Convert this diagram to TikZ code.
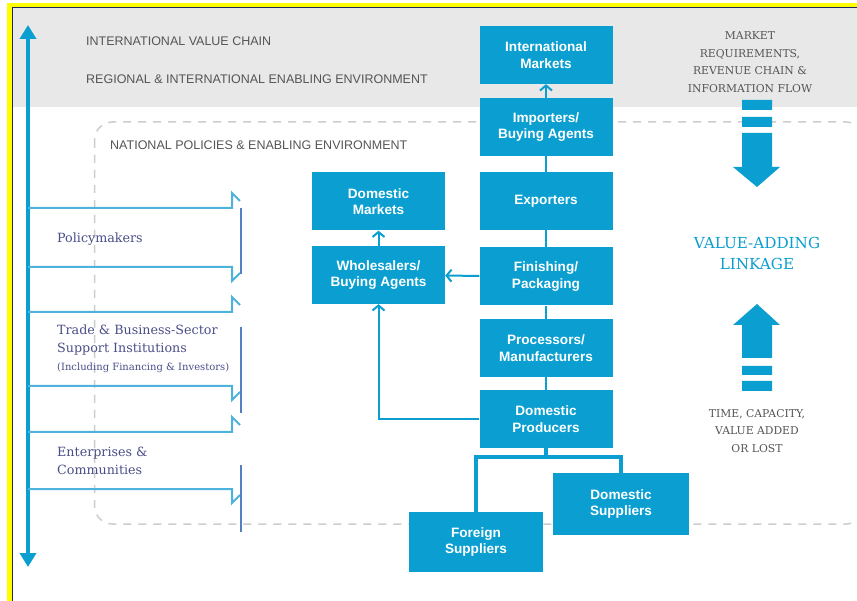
\documentclass[tikz,border=0pt]{standalone}
\usepackage{fontspec}
\setmainfont{Liberation Sans}
\newfontfamily\slabfont{DejaVu Serif}
\usepackage{tikz}
\usetikzlibrary{arrows.meta, calc}
\definecolor{Chain}{HTML}{0A9FD0}
\definecolor{Frame}{HTML}{4DB3DC}
\definecolor{Edge}{HTML}{5580C0}
\definecolor{Band}{HTML}{E8E8E8}
\definecolor{Guide}{HTML}{CDCDCD}
\definecolor{Caption}{HTML}{555555}
\definecolor{Actor}{HTML}{4B4E88}
\definecolor{Marker}{HTML}{FFFF00}
\definecolor{Ink}{HTML}{1D2A5A}
\tikzset{
  stage/.style={fill=Chain, text=white, font=\fontsize{13.6}{16.5}\selectfont\bfseries, align=center, inner sep=0pt, minimum width=133pt, minimum height=58pt},
  link/.style={draw=Chain, line width=2pt},
  flow/.style={link, -{Straight Barb[length=5pt, width=12pt, line width=2pt]}},
  feed/.style={draw=Chain, line width=3.5pt},
  reach/.style={{Triangle[width=16pt, length=14pt]}-{Triangle[width=16pt, length=14pt]}, draw=Chain, line width=3.5pt},
  band/.style={draw=Frame, line width=2pt},
  scopeedge/.style={draw=Edge, line width=1.6pt},
  caption/.style={color=Caption, font=\fontsize{12.5}{15}\selectfont, anchor=west, inner sep=0pt},
  note/.style={color=Caption, font=\slabfont\fontsize{10.8}{17.5}\selectfont, align=center},
  actor/.style={color=Actor, font=\slabfont\fontsize{12.7}{18}\selectfont, anchor=west, align=left, inner sep=0pt},
  bigarrow/.style={fill=Chain},
  dashedguide/.style={draw=Guide, dash pattern=on 8pt off 7pt, line width=1.5pt, rounded corners=18pt},
}

\begin{document}
\begin{tikzpicture}[x=1pt, y=-1pt]
  \useasboundingbox (0,0) rectangle (857,601);
  \clip (0,0) rectangle (857,601);
  \fill[white] (0,0) rectangle (857,601);
  \fill[Band] (12,8) rectangle (857,107);
  \draw[dashedguide] (94.5,122) rectangle (864,524);
  \draw[Marker, line width=4.5pt] (9.5,5.2) rectangle (880,640);
  \draw[Ink, line width=0.7pt] (12.2,640) -- (12.2,7.8) -- (880,7.8);

  \node[caption] (chaintitle) at (86,41) {INTERNATIONAL VALUE CHAIN};
  \node[caption] (regiontitle) at (86,79) {REGIONAL \& INTERNATIONAL ENABLING ENVIRONMENT};
  \node[caption] (nationtitle) at (110,145) {NATIONAL POLICIES \& ENABLING ENVIRONMENT};

  % actors on the left
  \coordinate (reachtop) at (28,25);
  \coordinate (reachbottom) at (28,567);
  \draw[reach] (reachbottom) -- (reachtop);
  \foreach \hi/\lo/\ea/\eb in {208/267/208/274, 312/386/327/413, 432/489/465/532} {
    \draw[band] (28,\hi) -- (232,\hi) -- (232,\hi-15) -- (240,\hi-7);
    \draw[band] (28,\lo) -- (232,\lo) -- (232,\lo+14) -- (240,\lo+6);
    \draw[scopeedge] (241,\ea) -- (241,\eb);
  }
  \node[actor] (policy) at (57,239) {Policymakers};
  \node[actor] (support) at (57,349) {Trade \& Business-Sector\\Support Institutions\\{\fontsize{10}{18}\selectfont(Including Financing \& Investors)}};
  \node[actor] (firms) at (57,461) {Enterprises \&\\Communities};

  % value chain
  \node[stage] (intl) at (546,55) {International\\Markets};
  \node[stage] (imp) at (546,127) {Importers/\\Buying Agents};
  \node[stage] (exp) at (546,201) {Exporters};
  \node[stage] (fin) at (546,276.5) {Finishing/\\Packaging};
  \node[stage] (proc) at (546,348) {Processors/\\Manufacturers};
  \node[stage] (prod) at (546,419) {Domestic\\Producers};
  \node[stage] (dmk) at (378.5,201.5) {Domestic\\Markets};
  \node[stage] (whol) at (378.5,275) {Wholesalers/\\Buying Agents};
  \node[stage, minimum width=134pt, minimum height=60pt] (fsup) at (476,542) {Foreign\\Suppliers};
  \node[stage, minimum width=136pt, minimum height=62pt] (dsup) at (621,504) {Domestic\\Suppliers};

  \draw[flow] (imp) -- (intl);
  \draw[link] (exp) -- (imp);
  \draw[link] (fin) -- (exp);
  \draw[link] (proc) -- (fin);
  \draw[link] (prod) -- (proc);
  \draw[flow] (fin) -- (whol);
  \draw[flow] (whol) -- (dmk);
  \draw[flow] (prod) -| (whol);
  \coordinate (fork) at ($(prod.south)+(0,9)$);
  \draw[feed] (prod) -- (fork);
  \draw[feed] (fsup) |- (fork) -| (dsup);

  % linkage arrows
  \node[note] (demand) at (750,62) {MARKET\\REQUIREMENTS,\\REVENUE CHAIN \&\\INFORMATION FLOW};
  \fill[bigarrow] (742,100) rectangle (772,110) (742,117) rectangle (772,127);
  \fill[bigarrow] (742,133) -- (772,133) -- (772,167) -- (780,167) -- (757,187) -- (733,167) -- (742,167) -- cycle;
  \node[note, text=Chain, font=\slabfont\fontsize{15.2}{21}\selectfont] (linkage) at (757,253) {VALUE-ADDING\\LINKAGE};
  \fill[bigarrow] (742,358) -- (772,358) -- (772,325) -- (780,325) -- (757,304) -- (733,325) -- (742,325) -- cycle;
  \fill[bigarrow] (742,366) rectangle (772,375) (742,381) rectangle (772,391);
  \node[note] (supply) at (757,431) {TIME, CAPACITY,\\VALUE ADDED\\OR LOST};
\end{tikzpicture}
\end{document}
